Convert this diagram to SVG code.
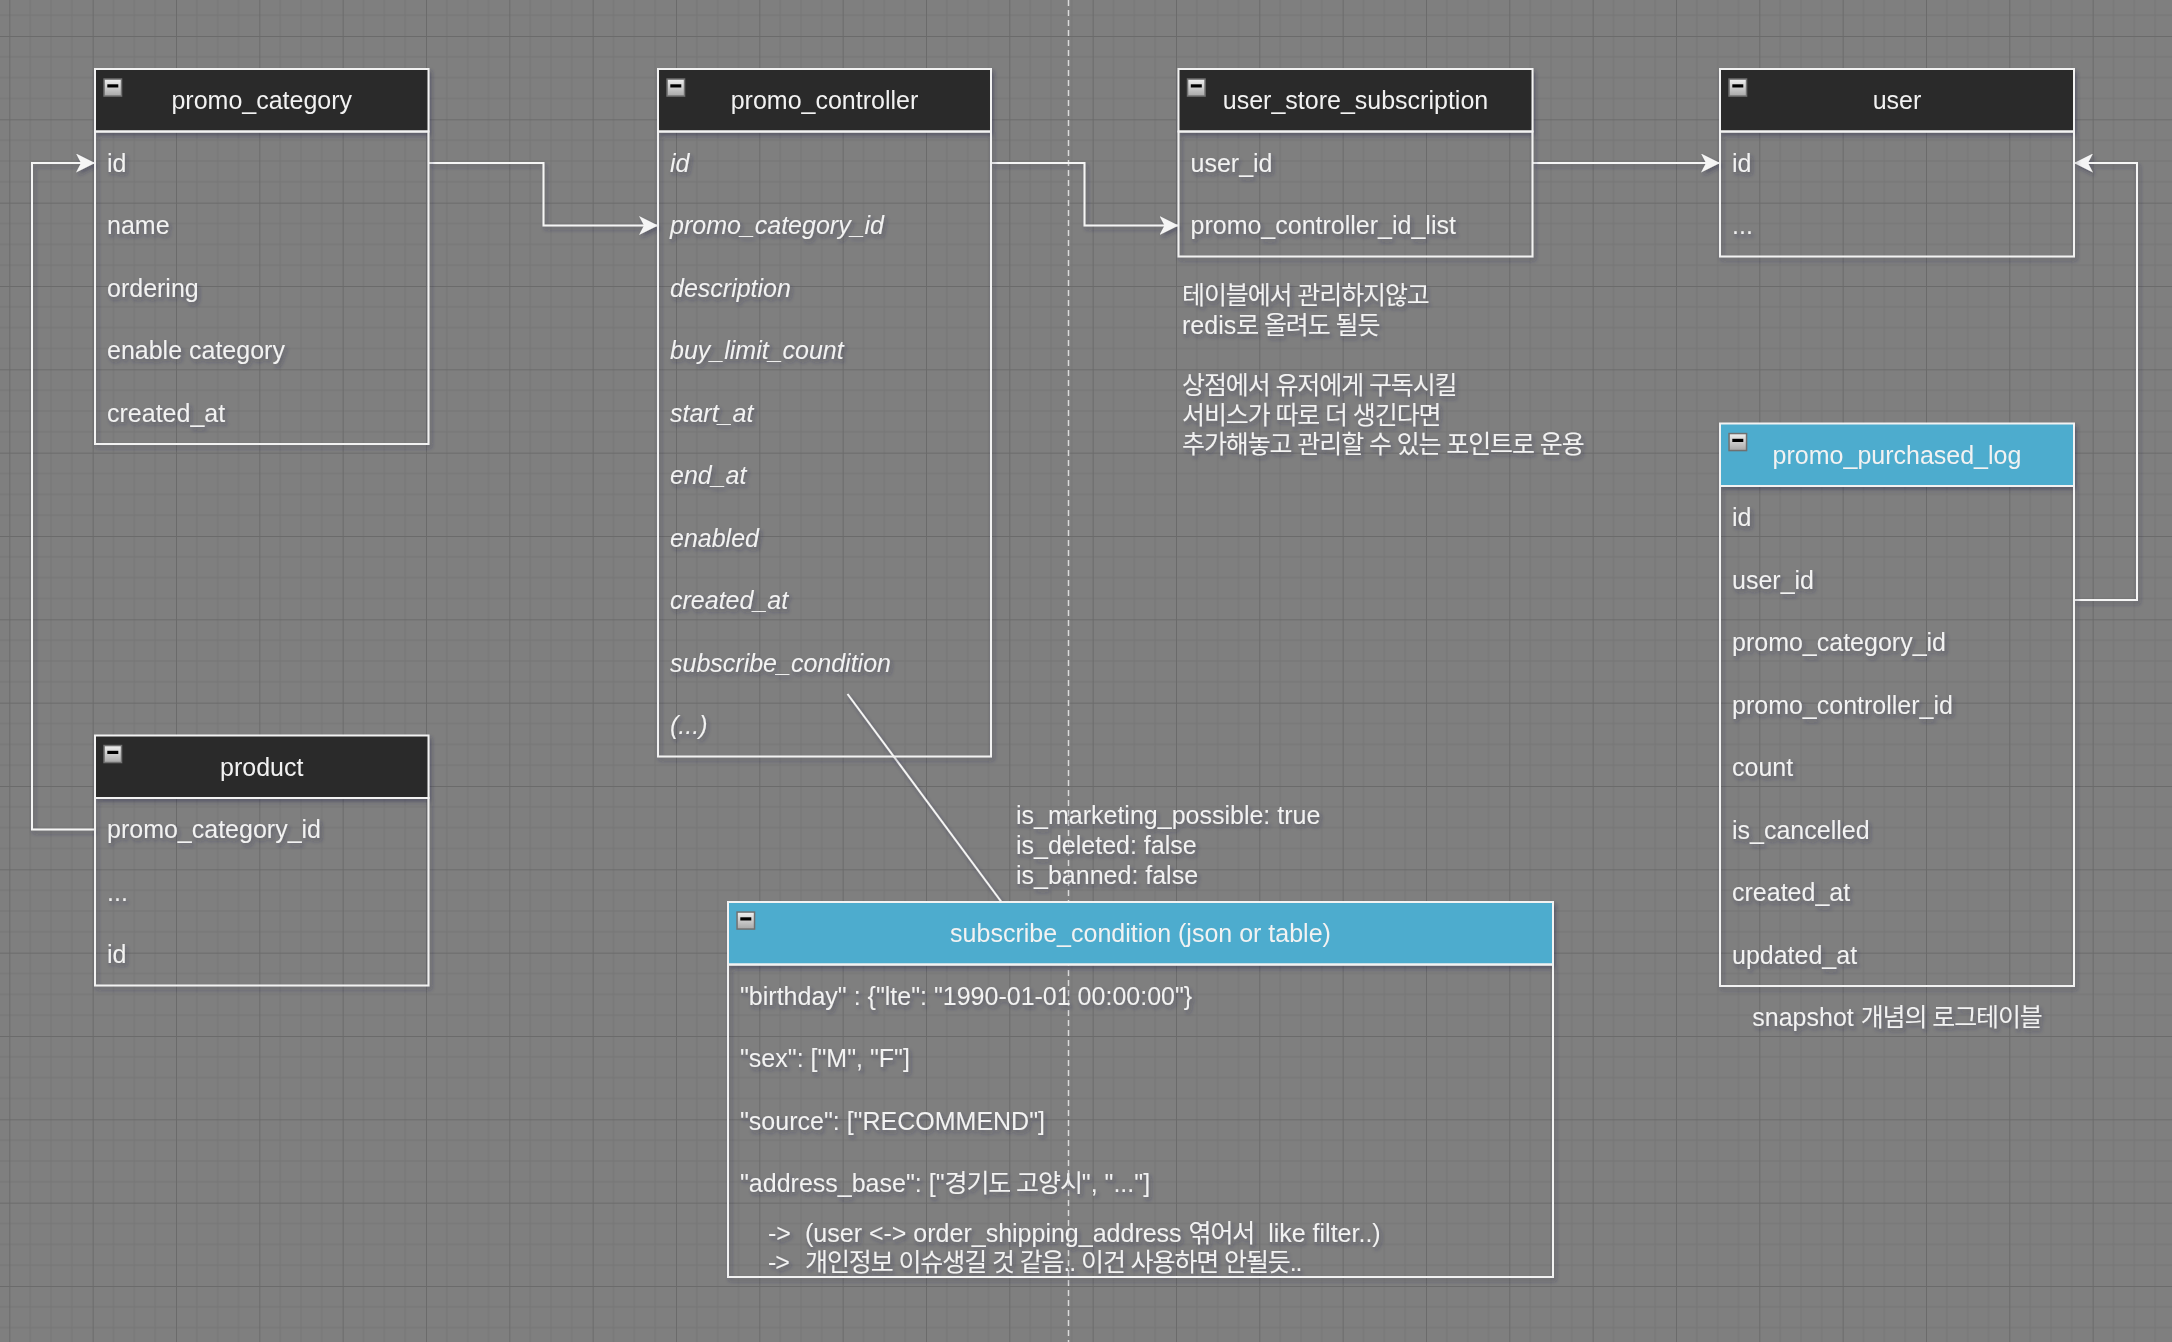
<svg xmlns="http://www.w3.org/2000/svg" xmlns:xlink="http://www.w3.org/1999/xlink" width="2172" height="1342" viewBox="0 0 2172 1342">
<style>
.hd{fill:#2a2a2a;stroke:#f2f2f2;stroke-width:2}
.hb{fill:#4eacce;stroke:#f2f2f2;stroke-width:2}
.bd{fill:none;stroke:#f2f2f2;stroke-width:2}
.t{font-family:"Liberation Sans",Arial,"Noto Sans CJK KR",sans-serif;font-size:25px;fill:#f2f2f2}
.ko{letter-spacing:-1.1px}
.ttl{text-anchor:middle}
.it{font-style:italic}
.conn{fill:none;stroke:#f5f5f5;stroke-width:2}
.sh{filter:url(#sh)}
</style>
<defs>
<pattern id="grid" patternUnits="userSpaceOnUse" x="9.33" y="36" width="83.333" height="83.333">
<path d="M20.833,0V83.333M41.667,0V83.333M62.5,0V83.333M0,20.833H83.333M0,41.667H83.333M0,62.5H83.333" stroke="#767676" stroke-width="1" fill="none"/>
<path d="M0.5,0V83.333M0,0.5H83.333" stroke="#6b6b6b" stroke-width="1" fill="none"/>
</pattern>
<linearGradient id="tg" x1="0" y1="0" x2="0" y2="1">
<stop offset="0" stop-color="#f0f0f0"/>
<stop offset="1" stop-color="#a8a8a8"/>
</linearGradient>
<g id="tog">
<rect x="0.75" y="0.75" width="17.5" height="17" fill="url(#tg)" stroke="#707070" stroke-width="1.5"/>
<rect x="4" y="6" width="11" height="3.2" fill="#000"/>
</g>
<filter id="sh" x="-5%" y="-5%" width="115%" height="120%">
<feDropShadow dx="2" dy="3" stdDeviation="2" flood-color="#2a2a48" flood-opacity="0.4"/>
</filter>
<marker id="arr" viewBox="0 0 19 19" refX="19" refY="9.5" markerWidth="19" markerHeight="19" markerUnits="userSpaceOnUse" orient="auto">
<path d="M0,0 L19,9.5 L0,19 L5,9.5 Z" fill="#f5f5f5"/>
</marker>
</defs>
<rect x="0" y="0" width="2172" height="1342" fill="#7f7f7f"/>
<rect x="0" y="0" width="2172" height="1342" fill="url(#grid)"/>
<line x1="1068.5" y1="0" x2="1068.5" y2="1342" stroke="#dcdcdc" stroke-width="1.5" stroke-dasharray="6 4"/>

<g id="connectors" class="sh">
<path class="conn" d="M428.5,163 H543.5 V225.5 H658" marker-end="url(#arr)"/>
<path class="conn" d="M991,163 H1084.5 V225.5 H1178.5" marker-end="url(#arr)"/>
<path class="conn" d="M1532.5,163 H1720" marker-end="url(#arr)"/>
<path class="conn" d="M2074,600 H2137 V163 H2074" marker-end="url(#arr)"/>
<path class="conn" d="M95,829.5 H32 V163 H95" marker-end="url(#arr)"/>
<path class="conn" d="M847.5,694 L1001.5,902"/>
</g>

<g id="promo_category" class="sh">
<rect class="hd" x="95" y="69" width="333.5" height="62.5"/>
<rect class="bd" x="95" y="131.5" width="333.5" height="312.5"/>
<use xlink:href="#tog" x="103.3" y="78.3"/>
<text class="t ttl" x="261.75" y="109.25">promo_category</text>
<text class="t" x="107" y="171.75">id</text>
<text class="t" x="107" y="234.25">name</text>
<text class="t" x="107" y="296.75">ordering</text>
<text class="t" x="107" y="359.25">enable category</text>
<text class="t" x="107" y="421.75">created_at</text>
</g>

<g id="promo_controller" class="sh">
<rect class="hd" x="658" y="69" width="333" height="62.5"/>
<rect class="bd" x="658" y="131.5" width="333" height="625"/>
<use xlink:href="#tog" x="666.3" y="78.3"/>
<text class="t ttl" x="824.5" y="109.25">promo_controller</text>
<text class="t it" x="670" y="171.75">id</text>
<text class="t it" x="670" y="234.25">promo_category_id</text>
<text class="t it" x="670" y="296.75">description</text>
<text class="t it" x="670" y="359.25">buy_limit_count</text>
<text class="t it" x="670" y="421.75">start_at</text>
<text class="t it" x="670" y="484.25">end_at</text>
<text class="t it" x="670" y="546.75">enabled</text>
<text class="t it" x="670" y="609.25">created_at</text>
<text class="t it" x="670" y="671.75">subscribe_condition</text>
<text class="t it" x="670" y="734.25">(...)</text>
</g>

<g id="user_store_subscription" class="sh">
<rect class="hd" x="1178.5" y="69" width="354" height="62.5"/>
<rect class="bd" x="1178.5" y="131.5" width="354" height="125"/>
<use xlink:href="#tog" x="1186.8" y="78.3"/>
<text class="t ttl" x="1355.5" y="109.25">user_store_subscription</text>
<text class="t" x="1190.5" y="171.75">user_id</text>
<text class="t" x="1190.5" y="234.25">promo_controller_id_list</text>
</g>

<g id="user" class="sh">
<rect class="hd" x="1720" y="69" width="354" height="62.5"/>
<rect class="bd" x="1720" y="131.5" width="354" height="125"/>
<use xlink:href="#tog" x="1728.3" y="78.3"/>
<text class="t ttl" x="1897" y="109.25">user</text>
<text class="t" x="1732" y="171.75">id</text>
<text class="t" x="1732" y="234.25">...</text>
</g>

<g id="promo_purchased_log" class="sh">
<rect class="hb" x="1720" y="423.5" width="354" height="62.5"/>
<rect class="bd" x="1720" y="486" width="354" height="500"/>
<use xlink:href="#tog" x="1728.3" y="432.8"/>
<text class="t ttl" x="1897" y="463.75">promo_purchased_log</text>
<text class="t" x="1732" y="526.25">id</text>
<text class="t" x="1732" y="588.75">user_id</text>
<text class="t" x="1732" y="651.25">promo_category_id</text>
<text class="t" x="1732" y="713.75">promo_controller_id</text>
<text class="t" x="1732" y="776.25">count</text>
<text class="t" x="1732" y="838.75">is_cancelled</text>
<text class="t" x="1732" y="901.25">created_at</text>
<text class="t" x="1732" y="963.75">updated_at</text>
</g>

<g id="product" class="sh">
<rect class="hd" x="95" y="735.5" width="333.5" height="62.5"/>
<rect class="bd" x="95" y="798" width="333.5" height="187.5"/>
<use xlink:href="#tog" x="103.3" y="744.8"/>
<text class="t ttl" x="261.75" y="775.75">product</text>
<text class="t" x="107" y="838.25">promo_category_id</text>
<text class="t" x="107" y="900.75">...</text>
<text class="t" x="107" y="963.25">id</text>
</g>

<g id="subscribe_condition" class="sh">
<rect class="hb" x="728" y="902" width="825" height="62.5"/>
<rect class="bd" x="728" y="964.5" width="825" height="312.5"/>
<use xlink:href="#tog" x="736.3" y="911.3"/>
<text class="t ttl" x="1140.5" y="942.25">subscribe_condition (json or table)</text>
<text class="t" x="740" y="1004.75">"birthday" : {"lte": "1990-01-01 00:00:00"}</text>
<text class="t" x="740" y="1067.25">"sex": ["M", "F"]</text>
<text class="t" x="740" y="1129.75">"source": ["RECOMMEND"]</text>
<text class="t" x="740" y="1192.25">"address_base": ["<tspan class="ko">경기도 고양시</tspan>", "..."]</text>
<text class="t" y="1242" xml:space="preserve"><tspan x="768">-&gt;</tspan><tspan x="805">(user &lt;-&gt; order_shipping_address <tspan class="ko">엮어서</tspan>  like filter..)</tspan></text>
<text class="t ko" y="1271" xml:space="preserve"><tspan x="768">-&gt;</tspan><tspan x="805">개인정보 이슈생길 것 같음.. 이건 사용하면 안될듯..</tspan></text>
</g>

<g id="note_redis" class="sh">
<text class="t ko" x="1182" y="304">테이블에서 관리하지않고</text>
<text class="t" x="1182" y="334">redis<tspan class="ko">로 올려도 될듯</tspan></text>
<text class="t ko" x="1182" y="394">상점에서 유저에게 구독시킬</text>
<text class="t ko" x="1182" y="423.5">서비스가 따로 더 생긴다면</text>
<text class="t ko" x="1182" y="453">추가해놓고 관리할 수 있는 포인트로 운용</text>
</g>

<g id="note_flags" class="sh">
<text class="t" x="1016" y="824">is_marketing_possible: true</text>
<text class="t" x="1016" y="854">is_deleted: false</text>
<text class="t" x="1016" y="884">is_banned: false</text>
</g>

<g id="note_snapshot" class="sh">
<text class="t ttl" x="1897" y="1026">snapshot <tspan class="ko">개념의 로그테이블</tspan></text>
</g>
</svg>
